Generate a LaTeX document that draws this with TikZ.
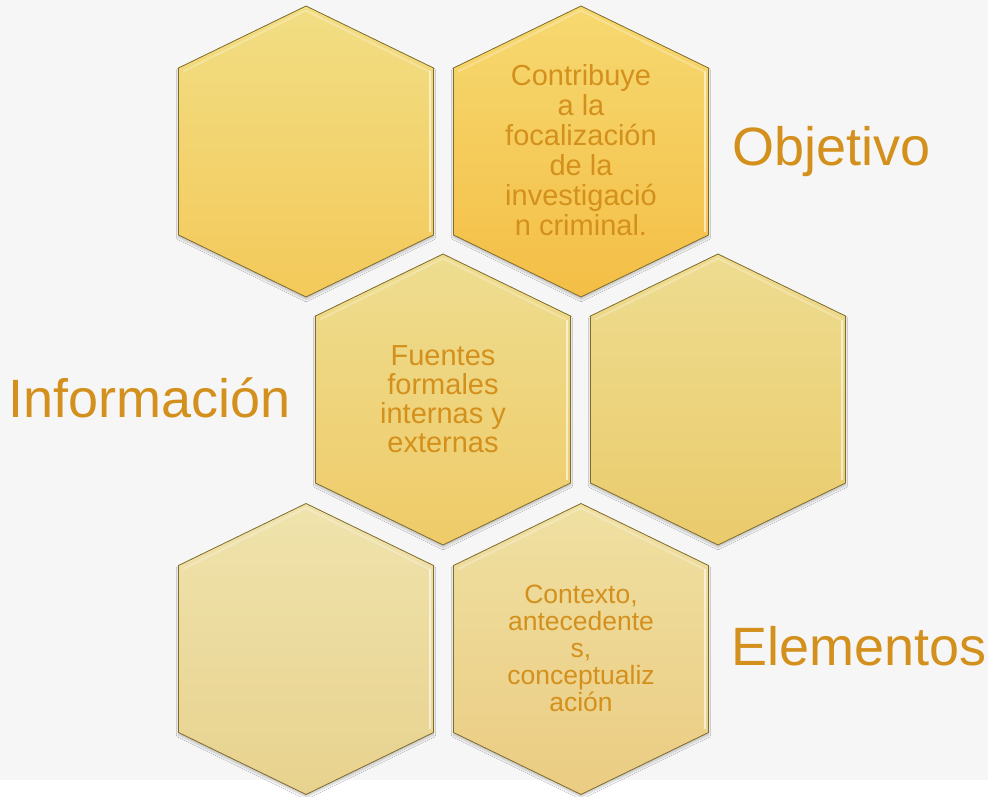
\documentclass[tikz,border=0pt]{standalone}
\usepackage{fontspec}
\setmainfont{Liberation Sans}
\usetikzlibrary{shadows.blur}
\definecolor{txt}{HTML}{D4901C}
\definecolor{bgc}{HTML}{F6F6F6}
\definecolor{hexedge}{HTML}{7F6B2C}
\definecolor{aT}{HTML}{F2DE84}\definecolor{aB}{HTML}{F3C95A}
\definecolor{bT}{HTML}{F6D971}\definecolor{bB}{HTML}{F4BE45}
\definecolor{cT}{HTML}{EEDD90}\definecolor{cB}{HTML}{EFCB68}
\definecolor{dT}{HTML}{EEDC90}\definecolor{dB}{HTML}{EACB6C}
\definecolor{eT}{HTML}{EFE3AC}\definecolor{eB}{HTML}{E8D28E}
\definecolor{fT}{HTML}{EFE0A2}\definecolor{fB}{HTML}{EBCC82}
\tikzset{
  hexcellstyle/.style={draw=hexedge, line width=0.8pt,
    blur shadow={shadow blur steps=8, shadow xshift=0pt, shadow yshift=-2.5pt, shadow opacity=22}},
  hextext/.style={text=txt, align=center, inner sep=0pt},
  sidelabel/.style={text=txt, inner sep=0pt, anchor=base west, font=\fontsize{54}{58}\selectfont},
}
% #1 cx, #2 cy, #3 top colour, #4 bottom colour
\newcommand\hexcell[4]{%
  \path[hexcellstyle, top color=#3, bottom color=#4]
    (#1,#2-145.5) -- (#1+127.5,#2-83.5) -- (#1+127.5,#2+83.5) --
    (#1,#2+145.5) -- (#1-127.5,#2+83.5) -- (#1-127.5,#2-83.5) -- cycle;
  \draw[white, opacity=0.6, line width=2.5pt]
    (#1+124,#2-80) -- (#1+124,#2+80);
  \draw[white, opacity=0.25, line width=2pt]
    (#1-123,#2-80) -- (#1,#2-141) -- (#1+123,#2-80);
}
\begin{document}
\begin{tikzpicture}[x=1pt,y=-1pt]
\useasboundingbox (0,0) rectangle (988,797);
\fill[bgc] (0,0) rectangle (988,780);
\fill[white] (0,780) rectangle (988,797);

\hexcell{306}{151.5}{aT}{aB}
\hexcell{581}{151.5}{bT}{bB}
\hexcell{443}{399.5}{cT}{cB}
\hexcell{718}{399.5}{dT}{dB}
\hexcell{306}{649}{eT}{eB}
\hexcell{581}{649}{fT}{fB}

\node[hextext, font=\fontsize{29}{30}\selectfont] (objtext) at (581,150.5)
  {Contribuye\\a la\\focalización\\de la\\investigació\\n criminal.};
\node[hextext, font=\fontsize{29}{29}\selectfont] (infotext) at (443,399)
  {Fuentes\\formales\\internas y\\externas};
\node[hextext, font=\fontsize{26.5}{27}\selectfont] (elemtext) at (581,648.5)
  {Contexto,\\antecedente\\s,\\conceptualiz\\ación};

\node[sidelabel] (objetivo) at (732,166) {Objetivo};
\node[sidelabel] (informacion) at (8,417) {Información};
\node[sidelabel] (elementos) at (731,665) {Elementos};
\end{tikzpicture}
\end{document}
